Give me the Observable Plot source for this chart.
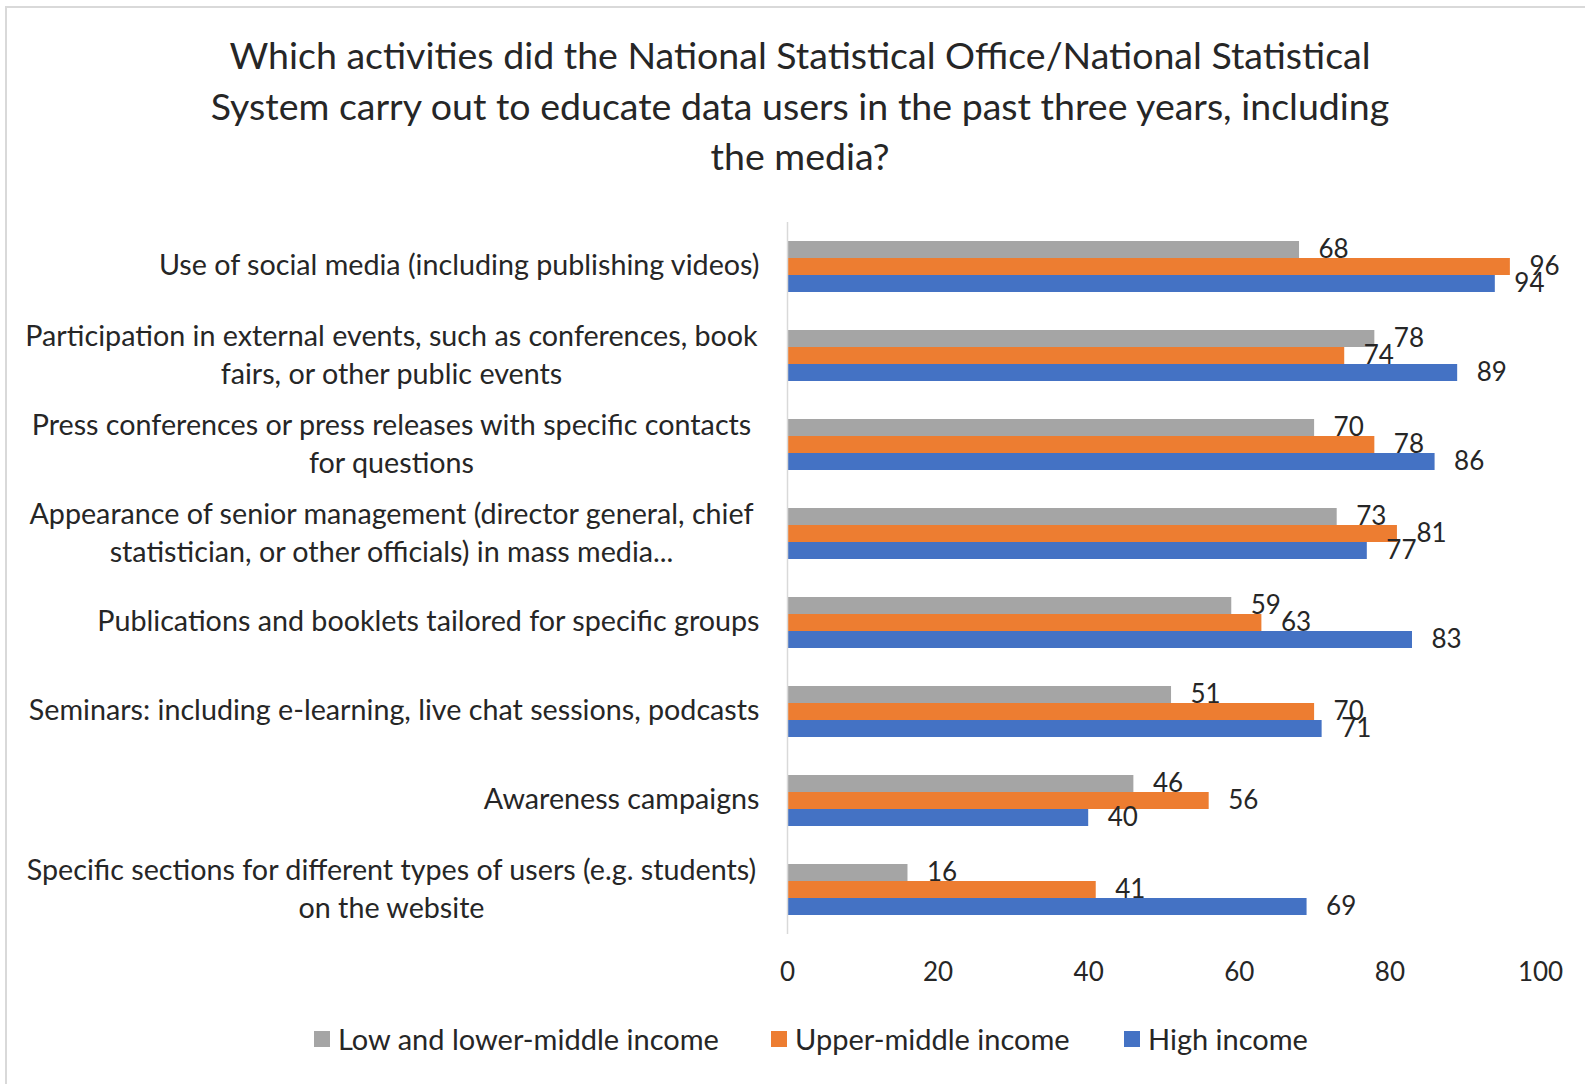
<!DOCTYPE html>
<html>
<head>
<meta charset="utf-8">
<script src="https://cdn.jsdelivr.net/npm/d3@7"></script>
<script src="https://cdn.jsdelivr.net/npm/@observablehq/plot@0.6"></script>
<style>
  html, body { margin: 0; padding: 0; background: #fff; }
  #page { position: relative; width: 1585px; height: 1084px; overflow: hidden; font-family: Lato, sans-serif; color: #262626; }
  #frame { position: absolute; left: 5px; top: 6px; right: -10px; bottom: -10px; border-top: 2px solid #D9D9D9; border-left: 2px solid #D9D9D9; }
  #title { position: absolute; left: 0; width: 1600px; top: 30px; text-align: center; font-size: 37.5px; line-height: 50.5px; white-space: pre-line; }
  #chart { position: absolute; left: 0; top: 200px; }
  .leg { position: absolute; top: 1020px; display: flex; align-items: center; font-size: 29px; line-height: 38px; white-space: nowrap; }
  .leg .sw { width: 16px; height: 16px; margin-right: 8px; }
</style>
</head>
<body>
<div id="page">
  <div id="frame"></div>
  <div id="title"></div>
  <div id="chart"></div>
  <div id="legend"></div>
</div>
<script>
const titleLines = [
  "Which activities did the National Statistical Office/National Statistical",
  "System carry out to educate data users in the past three years, including",
  "the media?"
];
const categories = [
  "Use of social media (including publishing videos)",
  "Participation in external events, such as conferences, book\nfairs, or other public events",
  "Press conferences or press releases with specific contacts\nfor questions",
  "Appearance of senior management (director general, chief\nstatistician, or other officials) in mass media...",
  "Publications and booklets tailored for specific groups",
  "Seminars: including e-learning, live chat sessions, podcasts",
  "Awareness campaigns",
  "Specific sections for different types of users (e.g. students)\non the website"
];
const series = ["Low and lower-middle income", "Upper-middle income", "High income"];
const lowValues = [68, 78, 70, 73, 59, 51, 46, 16];
const upperValues = [96, 74, 78, 81, 63, 70, 56, 41];
const highValues = [94, 89, 86, 77, 83, 71, 40, 69];
const xTicks = [0, 20, 40, 60, 80, 100];
const colors = ["#A5A5A5", "#ED7D31", "#4472C4"];

const valuesBySeries = [lowValues, upperValues, highValues];
const data = categories.flatMap((c, i) =>
  series.map((s, j) => ({category: c, series: s, value: valuesBySeries[j][i]}))
);

document.getElementById("title").textContent = titleLines.join("\n");

const textColor = "#262626";
const plot = Plot.plot({
  width: 1585,
  height: 790,
  marginLeft: 787,
  marginRight: 45,
  marginTop: 21,
  marginBottom: 54,
  style: {fontFamily: "Lato, sans-serif", fontSize: "26px", color: textColor, background: "transparent", overflow: "visible"},
  x: {domain: [0, 100], axis: null},
  y: {domain: series, padding: 0, axis: null},
  fy: {domain: categories, paddingInner: 0.4, paddingOuter: 0.2, axis: null, label: null},
  color: {domain: series, range: colors},
  marks: [
    Plot.barX(data, {fy: "category", y: "series", x: "value", fill: "series"}),
    Plot.ruleX([0], {stroke: "#D9D9D9", strokeWidth: 1.5, insetTop: -18, insetBottom: -18}),
    Plot.text(data, {fy: "category", y: "series", x: "value", text: d => String(d.value), textAnchor: "start", dx: 19, fontSize: 26, fill: textColor}),
    Plot.text(categories.filter(c => !c.includes("\n")), {fy: d => d, text: d => d, frameAnchor: "left", textAnchor: "end", dx: -28, dy: -1, fontSize: 28.7, fill: textColor}),
    Plot.text(categories.filter(c => c.includes("\n")), {fy: d => d, text: d => d, frameAnchor: "left", textAnchor: "middle", dx: -396, dy: -3, lineHeight: 1.32, fontSize: 28.7, fill: textColor}),
    Plot.axisX({ticks: xTicks, tickSize: 0, tickPadding: 46, fontSize: 26, label: null, anchor: "bottom", fill: textColor})
  ]
});
document.getElementById("chart").appendChild(plot);

const legendLefts = [314, 771, 1124];
const legend = document.getElementById("legend");
series.forEach((s, i) => {
  const item = document.createElement("div");
  item.className = "leg";
  item.style.left = legendLefts[i] + "px";
  const sw = document.createElement("span");
  sw.className = "sw";
  sw.style.background = colors[i];
  const t = document.createElement("span");
  t.textContent = s;
  item.appendChild(sw);
  item.appendChild(t);
  legend.appendChild(item);
});
</script>
</body>
</html>
